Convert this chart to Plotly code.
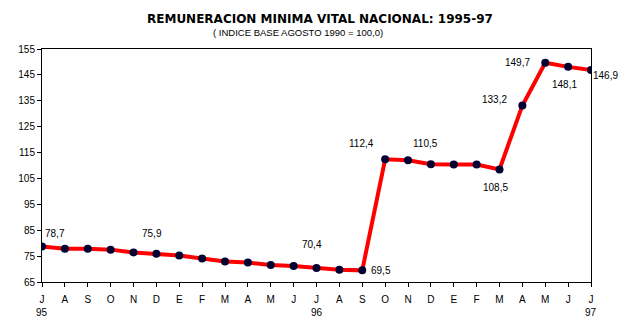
import plotly.graph_objects as go

months = ["J", "A", "S", "O", "N", "D", "E", "F", "M", "A", "M", "J",
          "J", "A", "S", "O", "N", "D", "E", "F", "M", "A", "M", "J", "J"]
years = {0: "95", 12: "96", 24: "97"}
values = [78.7, 77.8, 77.8, 77.5, 76.4, 75.9, 75.2, 74.1, 72.9, 72.5, 71.6, 71.2,
          70.4, 69.7, 69.5, 112.4, 112.0, 110.5, 110.4, 110.4, 108.5, 133.2, 149.7, 148.1, 146.9]
# (index, text, xshift, yshift)
labels = [(0, "78,7", 13, 13), (5, "75,9", -4, 20), (12, "70,4", -5, 24),
          (14, "69,5", 19, 0), (15, "112,4", -24, 16), (17, "110,5", -5, 21),
          (20, "108,5", -4, -18), (21, "133,2", -28, 6), (22, "149,7", -28, 0),
          (23, "148,1", -4, -18), (24, "146,9", 14, -6)]

x = list(range(len(months)))
font = "Liberation Sans, Arial, sans-serif"

fig = go.Figure()
fig.add_trace(go.Scatter(
    x=x, y=values, mode="lines+markers",
    line=dict(color="#FF0000", width=4),
    marker=dict(color="#000033", size=8),
    hoverinfo="skip", showlegend=False))

ann = []
for i, t, dx, dy in labels:
    ann.append(dict(x=i, y=values[i], xref="x", yref="y", text=t, showarrow=False,
                    xshift=dx, yshift=dy, font=dict(size=10, color="black", family=font)))
for i, t in years.items():
    ann.append(dict(x=i, y=0, xref="x", yref="paper", text=t, showarrow=False,
                    yanchor="middle", yshift=-30, font=dict(size=10, color="black", family=font)))
ann.append(dict(x=0.5057, y=(282.3 - 19.5) / 233, xref="paper", yref="paper", yanchor="middle",
                text="<b>REMUNERACION MINIMA VITAL NACIONAL: 1995-97</b>", showarrow=False,
                font=dict(size=12, color="black", family="DejaVu Sans, sans-serif")))
ann.append(dict(x=0.4666, y=(282.3 - 32.5) / 233, xref="paper", yref="paper", yanchor="middle",
                text="( INDICE BASE AGOSTO 1990 = 100,0)", showarrow=False,
                font=dict(size=9.5, color="black", family=font)))

fig.update_layout(
    width=635, height=329,
    margin=dict(l=42, r=44, t=49, b=47),
    paper_bgcolor="white", plot_bgcolor="white",
    font=dict(family=font, size=10, color="black"),
    annotations=ann,
    xaxis=dict(range=[0, 24], tickmode="array", tickvals=x, ticktext=months,
               showgrid=False, zeroline=False, showline=True, linecolor="black",
               linewidth=1, mirror=True, ticks="outside", ticklen=4,
               tickcolor="black", tickfont=dict(size=10), ticklabelstandoff=4),
    yaxis=dict(range=[65, 155], tickmode="array", tickvals=list(range(65, 156, 10)),
               showgrid=False, zeroline=False, showline=True, linecolor="black",
               linewidth=1, mirror=True, ticks="outside", ticklen=4,
               tickcolor="black", tickfont=dict(size=10)),
)

fig.write_html("out.html")
